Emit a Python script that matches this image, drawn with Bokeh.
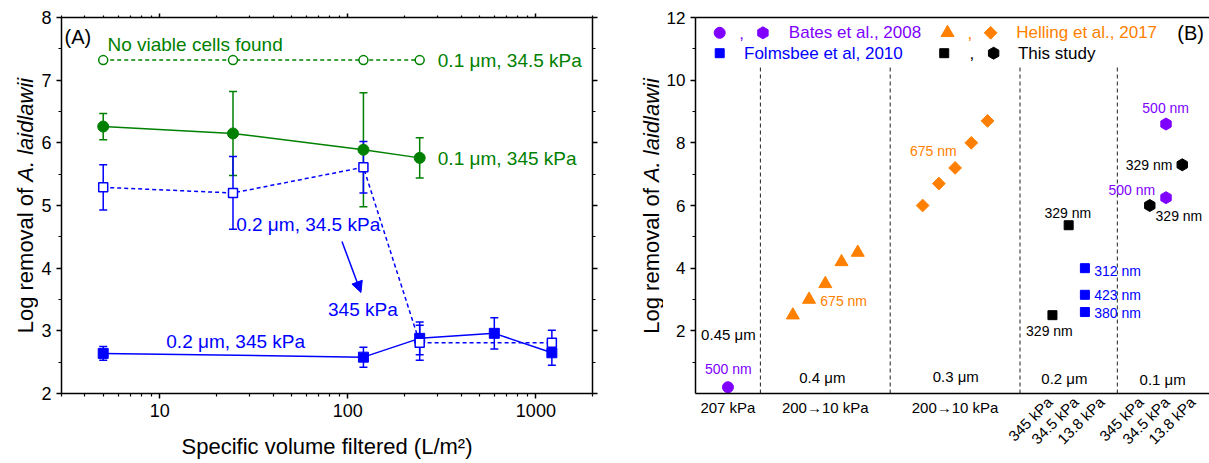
import math
from bokeh.plotting import figure
from bokeh.layouts import row
from bokeh.models import (ColumnDataSource, Whisker, TeeHead, Arrow, NormalHead, Label,
                          LinearAxis, LogAxis, FixedTicker, Range1d)
from bokeh.embed import file_html
from bokeh.resources import INLINE

FONT = "Liberation Sans"
GREEN = "#008000"
BLUE = "#0000ff"
PURPLE = "#8000ff"
ORANGE = "#ff8000"

# ---------------- Panel A data ----------------
a_x_g_open = [5, 24.5, 121, 241]
a_y_g_open = [7.32, 7.32, 7.32, 7.32]
a_x_g = [5, 24.5, 121, 241]
a_y_g = [6.26, 6.15, 5.89, 5.76]
a_e_g = [0.21, 0.67, 0.91, 0.32]
a_x_b_open = [5, 24.5, 121, 241, 1216]
a_y_b_open = [5.29, 5.20, 5.61, 2.81, 2.81]
a_e_b_open = [0.36, 0.58, 0.41, 0.28, 0.20]
a_x_b = [5, 121, 241, 601, 1216]
a_y_b = [2.64, 2.58, 2.88, 2.96, 2.65]
a_e_b = [0.11, 0.16, 0.26, 0.25, 0.20]
a_xticks = [10, 100, 1000]
a_xtick_labels = ["10", "100", "1000"]

# ---------------- Panel B data ----------------
b_bates_circle_x = [0.5]
b_bates_circle_y = [0.2]
b_bates_hex_x = [7.25, 7.25]
b_bates_hex_y = [8.6, 6.25]
b_helling_tri_x = [1.5, 1.75, 2.0, 2.25, 2.5]
b_helling_tri_y = [2.5, 3.0, 3.5, 4.2, 4.5]
b_helling_dia_x = [3.5, 3.75, 4.0, 4.25, 4.5]
b_helling_dia_y = [6.0, 6.7, 7.2, 8.0, 8.7]
b_folmsbee_x = [6.0, 6.0, 6.0]
b_folmsbee_y = [4.0, 3.15, 2.6]
b_this_sq_x = [5.5, 5.75]
b_this_sq_y = [2.5, 5.37]
b_this_hex_x = [7.0, 7.5]
b_this_hex_y = [6.0, 7.3]
b_separators = [1.0, 3.0, 5.0, 6.5]
b_cat_x = [0.5, 2.0, 4.0]
b_cat_labels = ["207 kPa", "200\u219210 kPa", "200\u219210 kPa"]
b_rot_x = [5.46, 5.86, 6.26, 6.86, 7.26, 7.66]
b_rot_labels = ["345 kPa", "34.5 kPa", "13.8 kPa", "345 kPa", "34.5 kPa", "13.8 kPa"]
XB_MAX = 7.92

# ---------------- layout (screen px) ----------------
W_TA = 38            # y-title strip of panel A
W_A = 620 - W_TA
W_TB = 43            # y-title strip of panel B
W_B = 1209 - 620 - W_TB
TOP, BOT = 17, 393   # frame top / bottom shared by every plot of the row
A_L, A_R = 60, 592
B_L, B_R = 693, 1209


def ax(sx):
    return 10 ** (math.log10(3) + (sx - A_L) / (A_R - A_L) * math.log10(2000 / 3))


def ay(sy):
    return 2 + (BOT - sy) / (BOT - TOP) * 6


def bx(sx):
    return (sx - B_L) / (B_R - B_L) * XB_MAX


def by(sy):
    return (BOT - sy) / (BOT - TOP) * 12


def lab(p, x, y, text, color="black", size=15, align="left", baseline="middle",
        angle=0.0, style="normal"):
    p.add_layout(Label(x=x, y=y, text=text, text_color=color, text_font=FONT,
                       text_font_size=f"{size}px", text_align=align,
                       text_baseline=baseline, angle=angle, text_font_style=style))


def style_axis(a, label_size):
    a.axis_line_width = 1.5
    a.axis_line_color = "black"
    a.major_tick_line_width = 1.5
    a.minor_tick_line_width = 1.2
    a.major_tick_in = 0
    a.minor_tick_in = 0
    a.major_tick_out = 5
    a.minor_tick_out = 3
    a.major_label_text_font = FONT
    a.major_label_text_font_size = f"{label_size}px"
    a.major_label_text_color = "black"


def hide_labels(a):
    a.major_label_text_font_size = "1px"
    a.major_label_text_color = None
    a.major_label_standoff = 0


def title_strip(width, x_mid, y_end, y_start2):
    t = figure(width=width, height=463, x_range=Range1d(0, width), y_range=Range1d(BOT, TOP),
               output_backend="svg", toolbar_location=None, x_axis_location=None,
               y_axis_location=None, min_border_left=0, min_border_right=0,
               min_border_top=TOP, min_border_bottom=463 - BOT)
    t.grid.visible = False
    t.outline_line_color = None
    lab(t, x_mid, y_end, "Log removal of", size=22, align="right", baseline="middle",
        angle=math.pi / 2)
    lab(t, x_mid, y_start2, "A. laidlawii", size=22, align="left", baseline="middle",
        angle=math.pi / 2, style="italic")
    return t


# ================= Panel A =================
tA = title_strip(W_TA, 25, 187.3, 181.2)

pA = figure(width=W_A, height=463, x_axis_type="log", x_range=Range1d(3, 2000),
            y_range=Range1d(2, 8), output_backend="svg", toolbar_location=None,
            min_border_left=A_L - W_TA, min_border_right=620 - A_R, min_border_top=TOP,
            min_border_bottom=463 - BOT)
pA.grid.visible = False
pA.outline_line_color = None

minorA = [m * 10 ** d for d in range(0, 4) for m in range(2, 10) if 3 <= m * 10 ** d <= 2000]
tickA = FixedTicker(ticks=a_xticks, minor_ticks=minorA)
yTickA = FixedTicker(ticks=[2, 3, 4, 5, 6, 7, 8], minor_ticks=[2.5, 3.5, 4.5, 5.5, 6.5, 7.5])
pA.xaxis.ticker = tickA
pA.yaxis.ticker = yTickA
for a in pA.xaxis + pA.yaxis:
    style_axis(a, 18)
pA.xaxis.major_label_standoff = 5
pA.xaxis.major_label_overrides = {t: s for t, s in zip(a_xticks, a_xtick_labels)}
pA.xaxis.axis_label = "Specific volume filtered (L/m\u00b2)"
pA.xaxis.axis_label_text_font = FONT
pA.xaxis.axis_label_text_font_size = "22px"
pA.xaxis.axis_label_text_font_style = "normal"
pA.xaxis.axis_label_text_color = "black"
pA.xaxis.axis_label_standoff = 14

topA = LogAxis(ticker=tickA)
rightA = LinearAxis(ticker=yTickA)
for a in (topA, rightA):
    style_axis(a, 18)
    hide_labels(a)
topA.major_tick_out = 4
topA.minor_tick_out = 2
pA.add_layout(topA, "above")
pA.add_layout(rightA, "right")

pA.line(a_x_g_open, a_y_g_open, line_color=GREEN, line_width=1.5, line_dash="4 3")
pA.line(a_x_g, a_y_g, line_color=GREEN, line_width=1.5)
pA.line(a_x_b_open, a_y_b_open, line_color=BLUE, line_width=1.5, line_dash="4 3")
pA.line(a_x_b, a_y_b, line_color=BLUE, line_width=1.5)


def add_err(p, xs, ys, es, color):
    src = ColumnDataSource(dict(x=xs, up=[y + e for y, e in zip(ys, es)],
                                lo=[y - e for y, e in zip(ys, es)]))
    p.add_layout(Whisker(source=src, base="x", upper="up", lower="lo", line_color=color,
                         line_width=1.5,
                         upper_head=TeeHead(size=8, line_color=color, line_width=1.5),
                         lower_head=TeeHead(size=8, line_color=color, line_width=1.5)))


add_err(pA, a_x_g, a_y_g, a_e_g, GREEN)
add_err(pA, a_x_b_open, a_y_b_open, a_e_b_open, BLUE)
add_err(pA, a_x_b, a_y_b, a_e_b, BLUE)

pA.scatter(a_x_g_open, a_y_g_open, marker="circle", size=9, fill_color="white",
           line_color=GREEN, line_width=1.5)
pA.scatter(a_x_g, a_y_g, marker="circle", size=11, fill_color=GREEN, line_color=GREEN)
pA.scatter(a_x_b, a_y_b, marker="square", size=10, fill_color=BLUE, line_color=BLUE)
pA.scatter(a_x_b_open, a_y_b_open, marker="square", size=9, fill_color="white",
           line_color=BLUE, line_width=1.5)

pA.add_layout(Arrow(end=NormalHead(size=11, fill_color=BLUE, line_color=BLUE),
                    x_start=ax(341), y_start=ay(241), x_end=ax(360), y_end=ay(292),
                    line_color=BLUE, line_width=1.5))

lab(pA, ax(63), ay(36.5), "(A)", size=20)
lab(pA, ax(106), ay(44), "No viable cells found", GREEN, 19)
lab(pA, ax(437), ay(60), "0.1 \u03bcm, 34.5 kPa", GREEN, 19)
lab(pA, ax(437), ay(158.3), "0.1 \u03bcm, 345 kPa", GREEN, 19)
lab(pA, ax(235), ay(224), "0.2 \u03bcm, 34.5 kPa", BLUE, 19)
lab(pA, ax(327), ay(309), "345 kPa", BLUE, 19)
lab(pA, ax(165), ay(341), "0.2 \u03bcm, 345 kPa", BLUE, 19)

# ================= Panel B =================
tB = title_strip(W_TB, 31, 187.7, 181.6)

pB = figure(width=W_B, height=463, x_range=Range1d(0, XB_MAX), y_range=Range1d(0, 12),
            output_backend="svg", toolbar_location=None,
            min_border_left=B_L - 620 - W_TB, min_border_right=0, min_border_top=TOP,
            min_border_bottom=463 - BOT)
pB.grid.visible = False
pB.outline_line_color = None

pB.yaxis.ticker = FixedTicker(ticks=[2, 4, 6, 8, 10, 12], minor_ticks=[1, 3, 5, 7, 9, 11])
style_axis(pB.yaxis[0], 17)

# bottom axis: horizontal category labels
pB.xaxis.ticker = FixedTicker(ticks=b_cat_x, minor_ticks=[])
style_axis(pB.xaxis[0], 15)
pB.xaxis.major_tick_out = 0
pB.xaxis.minor_tick_out = 0
pB.xaxis.major_tick_line_color = None
pB.xaxis.minor_tick_line_color = None
pB.xaxis.major_label_standoff = 5
pB.xaxis.major_label_overrides = {t: s for t, s in zip(b_cat_x, b_cat_labels)}

# second bottom axis: rotated pressure labels
rotB = LinearAxis(ticker=FixedTicker(ticks=b_rot_x, minor_ticks=[]))
style_axis(rotB, 15)
rotB.axis_line_color = None
rotB.major_tick_line_color = None
rotB.minor_tick_line_color = None
rotB.major_tick_out = 0
rotB.minor_tick_out = 0
rotB.major_label_orientation = math.pi / 4
rotB.major_label_standoff = -19
rotB.major_label_overrides = {t: s for t, s in zip(b_rot_x, b_rot_labels)}
pB.add_layout(rotB, "below")

topB = LinearAxis(ticker=FixedTicker(ticks=[1.0], minor_ticks=[]))
style_axis(topB, 15)
hide_labels(topB)
topB.major_tick_out = 0
topB.minor_tick_out = 0
topB.major_tick_line_color = None
pB.add_layout(topB, "above")

sep_src = ColumnDataSource(dict(x=b_separators, y0=[0] * len(b_separators),
                                y1=[10.45] * len(b_separators)))
pB.segment(x0="x", y0="y0", x1="x", y1="y1", source=sep_src, line_color="#222222",
           line_width=1, line_dash="4 3")

pB.scatter(b_bates_circle_x, b_bates_circle_y, marker="circle", size=11,
           fill_color=PURPLE, line_color=PURPLE)
pB.scatter(b_bates_hex_x, b_bates_hex_y, marker="hex", size=12, angle=math.pi / 6,
           fill_color=PURPLE, line_color=PURPLE)
pB.scatter(b_helling_tri_x, b_helling_tri_y, marker="triangle", size=13,
           fill_color=ORANGE, line_color=ORANGE)
pB.scatter(b_helling_dia_x, b_helling_dia_y, marker="square", size=9, angle=math.pi / 4,
           fill_color=ORANGE, line_color=ORANGE)
pB.scatter(b_folmsbee_x, b_folmsbee_y, marker="square", size=9, fill_color=BLUE,
           line_color=BLUE)
pB.scatter(b_this_sq_x, b_this_sq_y, marker="square", size=9, fill_color="black",
           line_color="black")
pB.scatter(b_this_hex_x, b_this_hex_y, marker="hex", size=12, angle=math.pi / 6,
           fill_color="black", line_color="black")

# legend (manual)
r1, r2 = 32.3, 52.7
pB.scatter([bx(717.3)], [by(r1)], marker="circle", size=11, fill_color=PURPLE, line_color=PURPLE)
pB.scatter([bx(760.7)], [by(r1)], marker="hex", size=12, angle=math.pi / 6,
           fill_color=PURPLE, line_color=PURPLE)
lab(pB, bx(737), by(r1), ",", PURPLE, 17)
lab(pB, bx(786.7), by(r1), "Bates et al., 2008", PURPLE, 17)
pB.scatter([bx(946)], [by(r1)], marker="triangle", size=13, fill_color=ORANGE, line_color=ORANGE)
pB.scatter([bx(989.3)], [by(r1)], marker="square", size=9, angle=math.pi / 4,
           fill_color=ORANGE, line_color=ORANGE)
lab(pB, bx(966), by(r1), ",", ORANGE, 17)
lab(pB, bx(1015), by(r1), "Helling et al., 2017", ORANGE, 17)
pB.scatter([bx(717.3)], [by(r2)], marker="square", size=9, fill_color=BLUE, line_color=BLUE)
lab(pB, bx(741.7), by(r2), "Folmsbee et al, 2010", BLUE, 17)
pB.scatter([bx(942.7)], [by(r2)], marker="square", size=9, fill_color="black", line_color="black")
lab(pB, bx(968), by(r2), ",", "black", 17)
pB.scatter([bx(992.3)], [by(r2)], marker="hex", size=12, angle=math.pi / 6,
           fill_color="black", line_color="black")
lab(pB, bx(1016.7), by(r2), "This study", "black", 17)
lab(pB, bx(1176.7), by(32), "(B)", size=20)

lab(pB, bx(726), by(334.3), "0.45 \u03bcm", size=15, align="center")
lab(pB, bx(726), by(368), "500 nm", PURPLE, 14, align="center")
lab(pB, bx(818.3), by(300), "675 nm", ORANGE, 14)
lab(pB, bx(820.3), by(376.7), "0.4 \u03bcm", size=15, align="center")
lab(pB, bx(931.7), by(150), "675 nm", ORANGE, 14, align="center")
lab(pB, bx(954.3), by(376), "0.3 \u03bcm", size=15, align="center")
lab(pB, bx(1066.7), by(212.3), "329 nm", "black", 14, align="center")
lab(pB, bx(1048.3), by(330), "329 nm", "black", 14, align="center")
lab(pB, bx(1093.3), by(270), "312 nm", BLUE, 14)
lab(pB, bx(1093.3), by(294), "423 nm", BLUE, 14)
lab(pB, bx(1093.3), by(312), "380 nm", BLUE, 14)
lab(pB, bx(1063.3), by(377.7), "0.2 \u03bcm", size=15, align="center")
lab(pB, bx(1165), by(107.3), "500 nm", PURPLE, 14, align="center")
lab(pB, bx(1148.3), by(164.3), "329 nm", "black", 14, align="center")
lab(pB, bx(1131), by(189), "500 nm", PURPLE, 14, align="center")
lab(pB, bx(1178.3), by(215), "329 nm", "black", 14, align="center")
lab(pB, bx(1162), by(378.7), "0.1 \u03bcm", size=15, align="center")

layout = row(tA, pA, tB, pB, spacing=0)
open("out.html", "w").write(file_html(layout, INLINE))
